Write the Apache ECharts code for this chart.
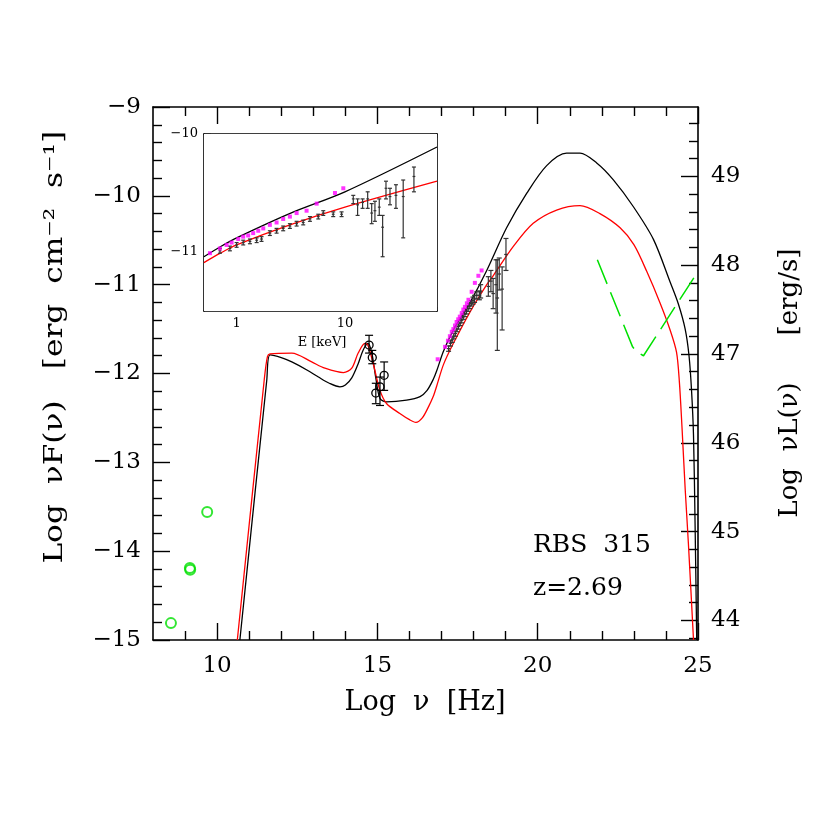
<!DOCTYPE html>
<html>
<head>
<meta charset="utf-8">
<script src="https://cdn.jsdelivr.net/npm/echarts@6/dist/echarts.min.js"></script>
<style>
html,body{margin:0;padding:0;background:#fff}
#main{width:830px;height:830px}
</style>
</head>
<body>
<div id="main"></div>
<script>
// ---- main panel data: Log nu [Hz] vs Log nuF(nu)
const modelBlack = [[10.71,-15.0],[11.55,-12.07],[11.65,-11.79],[12.0,-11.82],[12.33,-11.87],[12.8,-11.96],[13.16,-12.04],[13.5,-12.11],[13.83,-12.15],[14.0,-12.13],[14.2,-12.05],[14.4,-11.89],[14.55,-11.74],[14.7,-11.66],[14.82,-11.76],[14.95,-12.05],[15.08,-12.28],[15.29,-12.32],[15.91,-12.3],[16.33,-12.26],[16.55,-12.19],[16.75,-12.06],[16.85,-11.97],[17.06,-11.75],[17.37,-11.51],[17.89,-11.2],[18.41,-10.84],[19.03,-10.36],[19.66,-9.97],[20.28,-9.66],[20.9,-9.52],[21.32,-9.52],[21.84,-9.63],[22.36,-9.82],[22.98,-10.12],[23.61,-10.49],[24.13,-10.97],[24.39,-11.22],[24.6,-11.5],[24.72,-11.8],[24.8,-12.2],[24.86,-12.7],[24.91,-13.72],[24.96,-15.0]];
const modelRed = [[10.63,-15.0],[11.47,-12.07],[11.57,-11.81],[11.65,-11.78],[12.33,-11.77],[12.95,-11.87],[13.36,-11.94],[13.94,-11.99],[14.2,-11.94],[14.4,-11.77],[14.61,-11.66],[14.7,-11.68],[14.87,-11.89],[15.08,-12.19],[15.29,-12.34],[15.7,-12.45],[16.0,-12.52],[16.2,-12.55],[16.4,-12.5],[16.6,-12.37],[16.74,-12.26],[16.85,-12.14],[17.06,-11.9],[17.37,-11.66],[17.9,-11.3],[18.41,-11.0],[18.61,-10.9],[19.24,-10.57],[19.86,-10.31],[20.59,-10.16],[21.32,-10.11],[21.94,-10.2],[22.57,-10.36],[23.0,-10.55],[23.4,-10.85],[23.81,-11.2],[24.13,-11.51],[24.33,-11.76],[24.42,-12.1],[24.5,-12.6],[24.6,-13.3],[24.7,-13.91],[24.86,-15.0]];
const fermiLimit = [[21.86,-10.72],[22.96,-11.7],[23.1,-11.76],[23.3,-11.8],[25.0,-10.85]];
const radioPoints = [[8.56,-14.81],[9.15,-14.19],[9.16,-14.21],[9.69,-13.56]];
// [x, y, low, high]
const opticalPoints = [[14.74,-11.68,-11.77,-11.57],[14.84,-11.82,-11.89,-11.74],[14.95,-12.22,-12.34,-12.11],[15.08,-12.15,-12.36,-12.04],[15.21,-12.02,-12.19,-11.87]];
const xrayPoints = [[17.22,-11.72,-11.75,-11.69],[17.28,-11.66,-11.69,-11.63],[17.33,-11.62,-11.65,-11.59],[17.38,-11.58,-11.61,-11.55],[17.43,-11.55,-11.58,-11.52],[17.48,-11.5,-11.53,-11.47],[17.53,-11.47,-11.5,-11.44],[17.58,-11.43,-11.46,-11.4],[17.63,-11.4,-11.43,-11.37],[17.68,-11.36,-11.39,-11.33],[17.73,-11.33,-11.36,-11.3],[17.78,-11.3,-11.33,-11.27],[17.83,-11.27,-11.3,-11.24],[17.88,-11.24,-11.27,-11.21],[17.93,-11.21,-11.24,-11.18],[17.98,-11.18,-11.22,-11.14],[18.03,-11.16,-11.2,-11.12],[18.1,-11.12,-11.16,-11.08],[18.18,-11.12,-11.17,-11.07],[18.22,-11.08,-11.15,-11.0],[18.46,-11.02,-11.13,-10.91],[18.54,-10.96,-11.08,-10.84],[18.61,-11.1,-11.27,-10.93],[18.7,-11.0,-11.32,-10.72],[18.74,-11.15,-11.74,-10.72],[18.8,-10.88,-11.06,-10.7],[18.89,-11.05,-11.51,-10.8],[19.01,-10.66,-10.84,-10.48]];
const xrayMagenta = [[16.88,-11.84],[17.11,-11.7],[17.2,-11.63],[17.26,-11.58],[17.32,-11.53],[17.37,-11.5],[17.42,-11.46],[17.47,-11.42],[17.52,-11.39],[17.57,-11.36],[17.63,-11.32],[17.68,-11.28],[17.73,-11.25],[17.79,-11.21],[17.84,-11.17],[17.94,-11.08],[18.04,-10.98],[18.15,-10.9],[18.25,-10.84]];

// ---- inset data: Log E [keV] vs Log nuF(nu)
const insetBlack = [[-0.302,-11.04],[-0.15,-10.955],[0,-10.88],[0.5,-10.67],[1.0,-10.49],[1.85,-10.11]];
const insetRed = [[-0.302,-11.09],[-0.15,-11.01],[0,-10.94],[0.492,-10.77],[1.0,-10.62],[1.85,-10.4]];
const insetMagenta = [[-0.246,-11.01],[-0.154,-10.97],[-0.092,-10.94],[-0.046,-10.92],[0.015,-10.89],[0.061,-10.87],[0.107,-10.86],[0.153,-10.84],[0.2,-10.82],[0.246,-10.8],[0.307,-10.77],[0.369,-10.75],[0.43,-10.72],[0.492,-10.7],[0.554,-10.67],[0.646,-10.65],[0.739,-10.59],[0.908,-10.5],[0.985,-10.46]];
const insetPoints = [[-0.154,-10.99,-11.01,-10.97],[-0.062,-10.97,-10.99,-10.95],[0,-10.94,-10.96,-10.92],[0.061,-10.92,-10.94,-10.9],[0.123,-10.91,-10.93,-10.89],[0.185,-10.9,-10.92,-10.88],[0.23,-10.89,-10.91,-10.87],[0.307,-10.84,-10.86,-10.82],[0.369,-10.82,-10.84,-10.8],[0.43,-10.8,-10.82,-10.78],[0.492,-10.78,-10.8,-10.76],[0.554,-10.76,-10.78,-10.74],[0.615,-10.75,-10.77,-10.73],[0.677,-10.72,-10.74,-10.7],[0.754,-10.7,-10.72,-10.68],[0.8,-10.67,-10.69,-10.65],[0.892,-10.68,-10.7,-10.66],[0.969,-10.68,-10.7,-10.66],[1.077,-10.55,-10.59,-10.52],[1.117,-10.6,-10.69,-10.55],[1.163,-10.58,-10.63,-10.55],[1.21,-10.55,-10.63,-10.49],[1.247,-10.67,-10.76,-10.59],[1.277,-10.65,-10.74,-10.57],[1.317,-10.62,-10.69,-10.55],[1.348,-10.79,-11.04,-10.69],[1.379,-10.46,-10.55,-10.4],[1.416,-10.53,-10.6,-10.46],[1.471,-10.52,-10.63,-10.43],[1.538,-10.53,-10.88,-10.39],[1.637,-10.36,-10.49,-10.28]];

// ---- ticks
const mainXMajor = [10,15,20,25];
const mainXMinor = [9,11,12,13,14,16,17,18,19,21,22,23,24];
const leftYMajor = [-15,-14,-13,-12,-11,-10,-9];
const leftYMinor = [];
for (let i = -74; i <= -46; i++) { if (i % 5) leftYMinor.push(i / 5); }
const rightYMajor = [44,45,46,47,48,49];
const rightYMinor = [];
for (let i = 219; i <= 249; i++) { if (i % 5) rightYMinor.push(i / 5); }
const insetEMajor = [1,10];
const insetEMinor = [0.6,0.7,0.8,0.9,2,3,4,5,6,7,8,9,20,30,40,50,60,70];
const insetYMajor = [-11,-10];
const insetYMinor = [-11.4,-11.2,-10.8,-10.6,-10.4,-10.2];
const nuLOffset = 58.78;

const FONT = '"DejaVu Serif", serif';
const minus = v => String(v).replace('-', '\u2212');

// axis carrying only ticks (and optionally the frame line)
function tickAx(grid, pos, min, max, ticks, len, line) {
  return {
    type: 'value', gridIndex: grid, position: pos, min: min, max: max,
    axisLine: {show: line, onZero: false, lineStyle: {color: '#000', width: 1.6}},
    axisTick: {show: true, inside: true, length: len, customValues: ticks, lineStyle: {color: '#000', width: 1.4}},
    axisLabel: {show: false},
    splitLine: {show: false}
  };
}
// axis carrying only labels
function labelAx(grid, pos, min, max, vals, fmt, margin, fs) {
  return {
    type: 'value', gridIndex: grid, position: pos, min: min, max: max,
    axisLine: {show: false, onZero: false},
    axisTick: {show: false},
    axisLabel: {show: true, customValues: vals, formatter: fmt, color: '#000', fontFamily: FONT, fontSize: fs, margin: margin},
    splitLine: {show: false}
  };
}

const chart = echarts.init(document.getElementById('main'), null, {renderer: 'canvas'});

function errBars(capHalf, circleR, color) {
  return function (params, api) {
    const x = api.value(0), y = api.value(1), lo = api.value(2), hi = api.value(3);
    const c = api.coord([x, y]), a = api.coord([x, lo]), b = api.coord([x, hi]);
    const st = () => ({stroke: color, lineWidth: 1.2, fill: null});
    const ch = [
      {type: 'line', shape: {x1: a[0], y1: a[1], x2: b[0], y2: b[1]}, style: st()},
      {type: 'line', shape: {x1: a[0] - capHalf, y1: a[1], x2: a[0] + capHalf, y2: a[1]}, style: st()},
      {type: 'line', shape: {x1: b[0] - capHalf, y1: b[1], x2: b[0] + capHalf, y2: b[1]}, style: st()}
    ];
    if (circleR) {
      ch.push({type: 'circle', shape: {cx: c[0], cy: c[1], r: circleR}, style: {stroke: color, lineWidth: 1.3, fill: 'rgba(0,0,0,0)'}});
    } else {
      ch.push({type: 'line', shape: {x1: c[0] - capHalf * 0.7, y1: c[1], x2: c[0] + capHalf * 0.7, y2: c[1]}, style: st()});
    }
    return {type: 'group', children: ch};
  };
}

const eMin = -0.30103, eMax = 1.85;
const option = {
  animation: false,
  backgroundColor: '#fff',
  grid: [
    {left: 153, right: 132, top: 107, bottom: 190},
    {left: 204, right: 393, top: 134, bottom: 519, show: true, backgroundColor: '#fff', borderWidth: 0, z: 3}
  ],
  xAxis: [
    tickAx(0, 'bottom', 8, 25, mainXMajor, 17, true),
    tickAx(0, 'bottom', 8, 25, mainXMinor, 9, false),
    tickAx(0, 'top', 8, 25, mainXMajor, 17, true),
    tickAx(0, 'top', 8, 25, mainXMinor, 9, false),
    labelAx(0, 'bottom', 8, 25, mainXMajor, v => v, 15, 23),
    tickAx(1, 'bottom', eMin, eMax, insetEMajor.map(Math.log10), 8, true),
    tickAx(1, 'bottom', eMin, eMax, insetEMinor.map(Math.log10), 4, false),
    tickAx(1, 'top', eMin, eMax, insetEMajor.map(Math.log10), 8, true),
    tickAx(1, 'top', eMin, eMax, insetEMinor.map(Math.log10), 4, false),
    labelAx(1, 'bottom', eMin, eMax, insetEMajor.map(Math.log10), v => Math.round(Math.pow(10, v)), 6, 13)
  ],
  yAxis: [
    tickAx(0, 'left', -15, -9, leftYMajor, 17, true),
    tickAx(0, 'left', -15, -9, leftYMinor, 9, false),
    tickAx(0, 'right', -15 + nuLOffset, -9 + nuLOffset, rightYMajor, 17, true),
    tickAx(0, 'right', -15 + nuLOffset, -9 + nuLOffset, rightYMinor, 9, false),
    labelAx(0, 'left', -15, -9, leftYMajor, minus, 12, 23),
    labelAx(0, 'right', -15 + nuLOffset, -9 + nuLOffset, rightYMajor, v => v, 13, 23),
    tickAx(1, 'left', -11.5, -10, insetYMajor, 7, true),
    tickAx(1, 'left', -11.5, -10, insetYMinor, 4, false),
    tickAx(1, 'right', -11.5, -10, insetYMajor, 7, true),
    tickAx(1, 'right', -11.5, -10, insetYMinor, 4, false),
    labelAx(1, 'left', -11.5, -10, insetYMajor, minus, 6, 13)
  ],
  series: [
    {type: 'line', name: 'model black', xAxisIndex: 0, yAxisIndex: 0, data: modelBlack, showSymbol: false, smooth: 0.3, lineStyle: {color: '#000', width: 1.3}, clip: true, z: 2},
    {type: 'line', name: 'model red', xAxisIndex: 0, yAxisIndex: 0, data: modelRed, showSymbol: false, smooth: 0.3, lineStyle: {color: '#ff0000', width: 1.3}, clip: true, z: 2},
    {type: 'line', name: 'Fermi', xAxisIndex: 0, yAxisIndex: 0, data: fermiLimit, showSymbol: false, lineStyle: {color: '#00e000', width: 1.5, type: [26, 9]}, clip: true, z: 2},
    {type: 'scatter', name: 'radio', xAxisIndex: 0, yAxisIndex: 0, data: radioPoints, symbol: 'circle', symbolSize: 10, itemStyle: {color: 'rgba(0,0,0,0)', borderColor: '#00e000', borderWidth: 2}, z: 3},
    {type: 'custom', name: 'optical', xAxisIndex: 0, yAxisIndex: 0, data: opticalPoints, encode: {x: 0, y: 1}, renderItem: errBars(4, 4, '#000'), clip: true, z: 4},
    {type: 'custom', name: 'xray', xAxisIndex: 0, yAxisIndex: 0, data: xrayPoints, encode: {x: 0, y: 1}, renderItem: errBars(2.5, 0, '#333'), clip: true, z: 4},
    {type: 'scatter', name: 'xray2', xAxisIndex: 0, yAxisIndex: 0, data: xrayMagenta, symbol: 'rect', symbolSize: 4, itemStyle: {color: '#ff00ff'}, z: 5},
    {type: 'line', name: 'inset black', xAxisIndex: 5, yAxisIndex: 6, data: insetBlack, showSymbol: false, smooth: 0.3, lineStyle: {color: '#000', width: 1.3}, clip: true, z: 6},
    {type: 'line', name: 'inset red', xAxisIndex: 5, yAxisIndex: 6, data: insetRed, showSymbol: false, smooth: 0.3, lineStyle: {color: '#ff0000', width: 1.3}, clip: true, z: 6},
    {type: 'scatter', name: 'inset magenta', xAxisIndex: 5, yAxisIndex: 6, data: insetMagenta, symbol: 'rect', symbolSize: 4, itemStyle: {color: '#ff00ff'}, z: 7},
    {type: 'custom', name: 'inset points', xAxisIndex: 5, yAxisIndex: 6, data: insetPoints, encode: {x: 0, y: 1}, renderItem: errBars(2, 0, '#333'), clip: true, z: 7}
  ],
  graphic: [
    {type: 'text', x: 425, y: 703, style: {text: 'Log  \u03bd  [Hz]', font: '27px ' + FONT, fill: '#000', textAlign: 'center', textVerticalAlign: 'middle'}},
    {type: 'text', x: 55, y: 482, rotation: Math.PI / 2, scaleX: 1.2, style: {text: 'Log  \u03bdF(\u03bd)', font: '26px ' + FONT, fill: '#000', textAlign: 'center', textVerticalAlign: 'middle'}},
    {type: 'text', x: 55, y: 250, rotation: Math.PI / 2, scaleX: 1.2, style: {text: '[erg  cm\u207b\u00b2  s\u207b\u00b9]', font: '26px ' + FONT, fill: '#000', textAlign: 'center', textVerticalAlign: 'middle'}},
    {type: 'text', x: 790, y: 450, rotation: Math.PI / 2, style: {text: 'Log  \u03bdL(\u03bd)', font: '26px ' + FONT, fill: '#000', textAlign: 'center', textVerticalAlign: 'middle'}},
    {type: 'text', x: 790, y: 292, rotation: Math.PI / 2, style: {text: '[erg/s]', font: '26px ' + FONT, fill: '#000', textAlign: 'center', textVerticalAlign: 'middle'}},
    {type: 'text', x: 322, y: 343, z: 10, style: {text: 'E [keV]', font: '13px ' + FONT, fill: '#000', textAlign: 'center', textVerticalAlign: 'middle'}},
    {type: 'text', x: 533, y: 545, style: {text: 'RBS  315', font: '25px ' + FONT, fill: '#000', textVerticalAlign: 'middle'}},
    {type: 'text', x: 533, y: 588, style: {text: 'z=2.69', font: '25px ' + FONT, fill: '#000', textVerticalAlign: 'middle'}}
  ]
};
chart.setOption(option);
</script>
</body>
</html>
